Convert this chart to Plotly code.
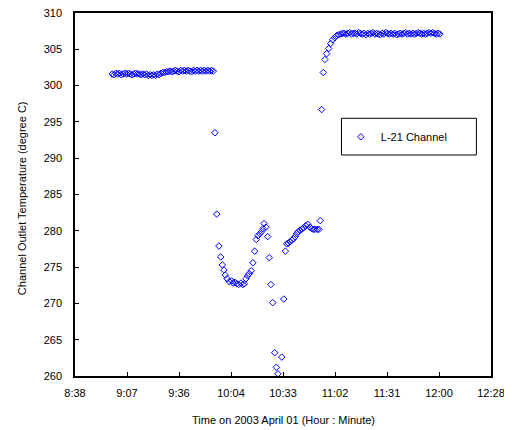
import plotly.graph_objects as go

# ---- data ----
seg1_times = ["8:59:00", "9:00:00", "9:01:00", "9:02:00", "9:03:00", "9:04:00", "9:05:00", "9:06:00",
              "9:07:00", "9:08:00", "9:09:00", "9:10:00", "9:11:00", "9:12:00", "9:13:00", "9:14:00",
              "9:15:00", "9:16:00", "9:17:00", "9:18:00", "9:19:00", "9:20:00", "9:21:00", "9:22:00",
              "9:23:00", "9:24:00", "9:25:00", "9:26:00", "9:27:00", "9:28:00", "9:29:00", "9:30:00",
              "9:31:00", "9:32:00", "9:33:00", "9:34:00", "9:35:00", "9:36:00", "9:37:00", "9:38:00",
              "9:39:00", "9:40:00", "9:41:00", "9:42:00", "9:43:00", "9:44:00", "9:45:00", "9:46:00",
              "9:47:00", "9:48:00", "9:49:00", "9:50:00", "9:51:00", "9:52:00", "9:53:00", "9:54:00",
              "9:55:00"]
seg1_temps = [301.6, 301.5, 301.7, 301.6, 301.7, 301.5, 301.6, 301.7,
              301.6, 301.7, 301.6, 301.5, 301.6, 301.7, 301.6, 301.6,
              301.5, 301.6, 301.5, 301.6, 301.4, 301.5, 301.4, 301.5,
              301.4, 301.6, 301.5, 301.7, 301.8, 301.8, 301.9, 301.9,
              302.0, 301.9, 302.0, 302.1, 302.0, 301.9, 302.1, 302.0,
              302.1, 302.0, 302.1, 302.0, 301.9, 302.1, 302.0, 302.1,
              302.0, 302.1, 302.0, 302.1, 302.0, 302.1, 302.0, 302.1,
              302.0]

trans_times = ["9:55:54", "9:56:54", "9:58:06", "9:59:06", "10:00:00", "10:00:54", "10:01:36", "10:02:36",
               "10:03:48", "10:05:12", "10:05:54", "10:07:00", "10:08:06", "10:09:00", "10:10:18", "10:11:24",
               "10:12:06", "10:13:06", "10:14:00", "10:14:54", "10:16:00", "10:16:54", "10:17:54", "10:18:48",
               "10:19:42", "10:20:42", "10:21:48", "10:22:30", "10:23:06", "10:24:12", "10:25:06", "10:26:00",
               "10:26:54", "10:27:54", "10:29:00", "10:29:54", "10:30:48", "10:32:54", "10:34:00", "10:34:54",
               "10:35:42", "10:36:36", "10:37:30", "10:38:30", "10:39:24", "10:40:18", "10:41:12", "10:42:06",
               "10:43:00", "10:44:00", "10:44:54", "10:46:12", "10:47:18", "10:48:30", "10:49:30", "10:50:24",
               "10:51:18", "10:52:36", "10:53:30", "10:54:12", "10:55:00", "10:55:54", "10:56:48", "10:57:48",
               "10:58:54", "11:00:00", "11:01:06", "11:02:12", "11:03:18", "11:04:24", "11:05:30", "11:06:36"]
trans_temps = [293.5, 282.3, 277.9, 276.4, 275.3, 274.6, 273.9, 273.4,
               273.0, 273.1, 272.8, 272.9, 272.7, 272.6, 272.8, 272.6,
               272.7, 273.4, 273.8, 274.1, 274.5, 275.6, 277.2, 278.8,
               279.3, 279.6, 279.9, 280.3, 281.0, 280.5, 279.2, 276.3,
               272.6, 270.1, 263.2, 261.2, 260.3, 262.6, 270.6, 277.2,
               278.2, 278.3, 278.5, 278.7, 278.9, 279.2, 279.6, 279.9,
               280.1, 280.2, 280.4, 280.7, 280.9, 280.5, 280.3, 280.2,
               280.2, 280.2, 280.2, 281.4, 296.7, 301.8, 303.6, 304.4,
               305.1, 305.8, 306.3, 306.6, 306.9, 307.0, 307.1, 307.2]

seg2_times = ["11:07:30", "11:08:30", "11:09:30", "11:10:30", "11:11:30", "11:12:30", "11:13:30", "11:14:30",
              "11:15:30", "11:16:30", "11:17:30", "11:18:30", "11:19:30", "11:20:30", "11:21:30", "11:22:30",
              "11:23:30", "11:24:30", "11:25:30", "11:26:30", "11:27:30", "11:28:30", "11:29:30", "11:30:30",
              "11:31:30", "11:32:30", "11:33:30", "11:34:30", "11:35:30", "11:36:30", "11:37:30", "11:38:30",
              "11:39:30", "11:40:30", "11:41:30", "11:42:30", "11:43:30", "11:44:30", "11:45:30", "11:46:30",
              "11:47:30", "11:48:30", "11:49:30", "11:50:30", "11:51:30", "11:52:30", "11:53:30", "11:54:30",
              "11:55:30", "11:56:30", "11:57:30", "11:58:30", "11:59:30", "12:00:30"]
seg2_temps = [307.2, 307.1, 307.2, 307.3, 307.1, 307.2, 307.2, 307.1,
              307.3, 307.2, 307.1, 307.2, 307.0, 307.2, 307.1, 307.2,
              307.3, 307.1, 307.2, 307.1, 307.0, 307.2, 307.1, 307.3,
              307.2, 307.1, 307.2, 307.1, 307.2, 307.0, 307.1, 307.2,
              307.1, 307.2, 307.3, 307.1, 307.2, 307.1, 307.2, 307.1,
              307.2, 307.3, 307.2, 307.1, 307.2, 307.1, 307.2, 307.3,
              307.2, 307.3, 307.2, 307.1, 307.2, 307.1]

tick_day_fractions = [0.36, 0.38, 0.40, 0.42, 0.44, 0.46, 0.48, 0.50, 0.52]
tick_labels = ["8:38", "9:07", "9:36", "10:04", "10:33", "11:02", "11:31", "12:00", "12:28"]
y_ticks = [260, 265, 270, 275, 280, 285, 290, 295, 300, 305, 310]


def to_minutes(s):
    h, m, sec = (int(v) for v in s.split(":"))
    return h * 60 + m + sec / 60.0


times = seg1_times + trans_times + seg2_times
temps = seg1_temps + trans_temps + seg2_temps
x_min = [to_minutes(t) for t in times]
tick_vals = [f * 1440 for f in tick_day_fractions]

FONT = "Liberation Sans, Arial, sans-serif"

fig = go.Figure()
fig.add_trace(go.Scatter(
    x=x_min, y=temps, mode="markers", name="L-21 Channel",
    cliponaxis=False,
    marker=dict(symbol="diamond-open", size=5, color="#0000FF", line=dict(width=1, color="#0000FF")),
))

# the page has an 8px body margin, so the figure is sized 8px smaller than the window
fig.update_layout(
    width=504, height=422,
    margin=dict(l=67, r=21, t=5, b=54, autoexpand=False),
    paper_bgcolor="white", plot_bgcolor="white",
    font=dict(family=FONT, size=11, color="black"),
    showlegend=True,
    legend=dict(x=0.639, y=0.659, xanchor="left", yanchor="middle",
                bgcolor="rgba(0,0,0,0)", borderwidth=0,
                font=dict(family=FONT, size=11, color="black")),
    shapes=[dict(type="rect", xref="paper", yref="paper",
                 x0=0.6406, x1=0.9649, y0=0.6088, y1=0.7099,
                 line=dict(color="black", width=1), fillcolor="rgba(0,0,0,0)")],
    annotations=[
        dict(text="Time on 2003 April 01 (Hour : Minute)", xref="paper", yref="paper",
             x=0.5, y=-0.1212, xanchor="center", yanchor="middle", showarrow=False,
             font=dict(family=FONT, size=11, color="black")),
        dict(text="Channel Outlet Temperature (degree C)", xref="paper", yref="paper",
             x=-0.1274, y=0.49, xanchor="center", yanchor="middle", showarrow=False,
             textangle=-90, font=dict(family=FONT, size=11, color="black")),
    ],
)

fig.update_xaxes(
    range=[tick_vals[0], tick_vals[-1]],
    tickmode="array", tickvals=tick_vals, ticktext=tick_labels,
    showline=True, linecolor="black", linewidth=1.5, mirror=True,
    ticks="inside", ticklen=4, tickcolor="black", tickwidth=1,
    showgrid=False, zeroline=False, automargin=False,
    tickfont=dict(family=FONT, size=11),
    ticklabelstandoff=6, ticklabeloverflow="allow",
)
fig.update_yaxes(
    range=[260, 310],
    tickmode="array", tickvals=y_ticks,
    showline=True, linecolor="black", linewidth=1.5, mirror=True,
    ticks="inside", ticklen=4, tickcolor="black", tickwidth=1,
    showgrid=False, zeroline=False, automargin=False,
    tickfont=dict(family=FONT, size=11),
    ticklabelstandoff=9, ticklabeloverflow="allow",
)

fig.write_html("out.html")
